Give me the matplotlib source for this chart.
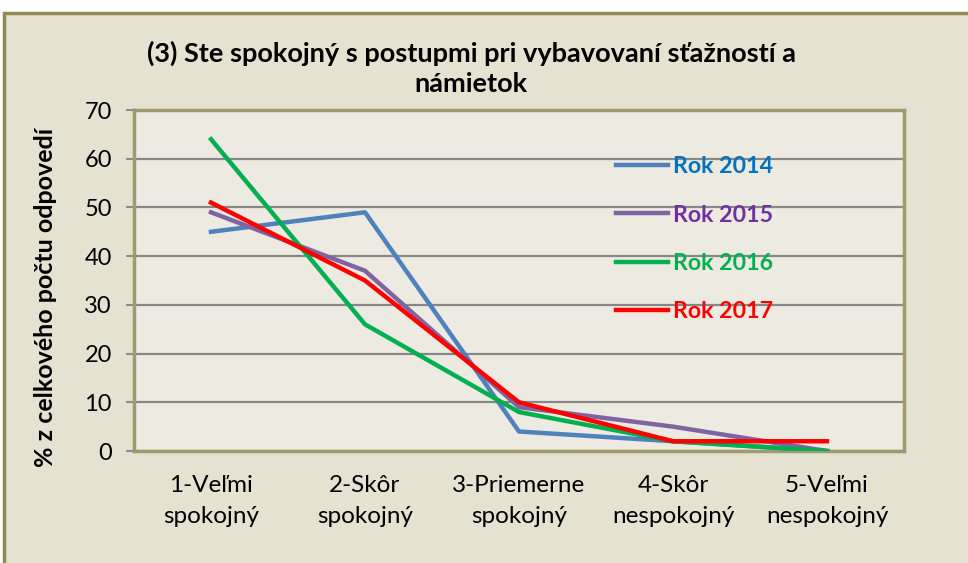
import matplotlib.pyplot as plt
from matplotlib.patches import Rectangle

categories = ['1-Veľmi\nspokojný', '2-Skôr\nspokojný', '3-Priemerne\nspokojný',
              '4-Skôr\nnespokojný', '5-Veľmi\nnespokojný']
rok_2014 = [45, 49, 4, 2, 0]
rok_2015 = [49, 37, 9, 5, 0]
rok_2016 = [64, 26, 8, 2, 0]
rok_2017 = [51, 35, 10, 2, 2]
labels = ['Rok 2014', 'Rok 2015', 'Rok 2016', 'Rok 2017']
line_colors = ['#4F81BD', '#8064A2', '#00B050', '#FF0000']
text_colors = ['#0070C0', '#7030A0', '#00B050', '#FF0000']

plt.rcParams['font.family'] = ['Lato', 'DejaVu Sans']

fig = plt.figure(figsize=(9.68, 5.63), dpi=100, facecolor='white')
# outer chart frame
frame = Rectangle((4 / 968, -0.02), 1.0, 1 - 13 / 563 + 0.02,
                  transform=fig.transFigure, facecolor='#E5E2D2',
                  edgecolor='#938953', linewidth=2.5, zorder=-5)
fig.patches.append(frame)

ax = fig.add_axes([134 / 968, 1 - 451 / 563, 770 / 968, 341 / 563])
ax.set_zorder(2)
ax.set_facecolor('#EDEBE1')

x = range(len(categories))
for vals, lab, c in zip([rok_2014, rok_2015, rok_2016, rok_2017], labels, line_colors):
    ax.plot(x, vals, color=c, linewidth=3.2, label=lab, zorder=3)

ax.set_xlim(-0.5, len(categories) - 0.5)
ax.set_ylim(0, 70)
ax.set_yticks(range(0, 71, 10))
ax.set_xticks(list(x))
ax.set_xticklabels(categories, fontsize=17.5, linespacing=1.6)
ax.tick_params(axis='x', length=0, pad=17)
ax.tick_params(axis='y', length=6, width=1.5, color='#8C8C8C', labelsize=17, pad=10)
ax.grid(axis='y', color='#878787', linewidth=1.6, zorder=1)
for s in ax.spines.values():
    s.set_color('#A09A6E')
    s.set_linewidth(2.5)

ax.set_ylabel('% z celkového počtu odpovedí', fontsize=18, fontweight='bold')
ax.yaxis.set_label_coords(-0.1, 0.45)
fig.text(0.487, 1 - 68 / 563, '(3) Ste spokojný s postupmi pri vybavovaní sťažností a\nnámietok',
         ha='center', va='center', fontsize=19.5, fontweight='bold', linespacing=1.3,
         zorder=3)

leg = ax.legend(loc='upper left', bbox_to_anchor=(0.599, 0.925), frameon=False,
                prop={'size': 16.7, 'weight': 'bold'}, labelcolor=text_colors,
                handlelength=2.25, handletextpad=0.2, labelspacing=1.17)

fig.savefig('out.png', dpi=100, facecolor=fig.get_facecolor())
